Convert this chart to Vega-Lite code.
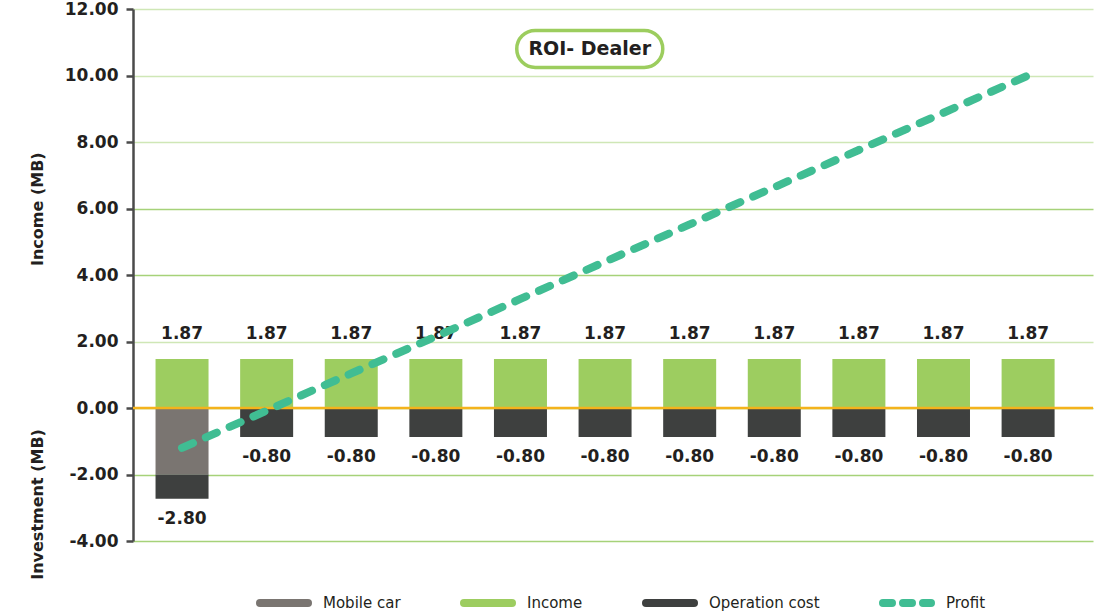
{
  "$schema": "https://vega.github.io/schema/vega-lite/v6.json",
  "width": 960,
  "height": 532,
  "autosize": {"type": "none"},
  "padding": {"left": 133, "top": 9, "right": 4, "bottom": 72},
  "background": "white",
  "config": {"font": "DejaVu Sans", "view": {"stroke": null}},
  "datasets": {
    "bars": [
      {"year": 1, "series": "Mobile car", "v": 0, "v2": -2.0, "label": null},
      {"year": 1, "series": "Operation cost", "v": -2.0, "v2": -2.73, "label": "-2.80"},
      {"year": 2, "series": "Operation cost", "v": 0, "v2": -0.87, "label": "-0.80"},
      {"year": 3, "series": "Operation cost", "v": 0, "v2": -0.87, "label": "-0.80"},
      {"year": 4, "series": "Operation cost", "v": 0, "v2": -0.87, "label": "-0.80"},
      {"year": 5, "series": "Operation cost", "v": 0, "v2": -0.87, "label": "-0.80"},
      {"year": 6, "series": "Operation cost", "v": 0, "v2": -0.87, "label": "-0.80"},
      {"year": 7, "series": "Operation cost", "v": 0, "v2": -0.87, "label": "-0.80"},
      {"year": 8, "series": "Operation cost", "v": 0, "v2": -0.87, "label": "-0.80"},
      {"year": 9, "series": "Operation cost", "v": 0, "v2": -0.87, "label": "-0.80"},
      {"year": 10, "series": "Operation cost", "v": 0, "v2": -0.87, "label": "-0.80"},
      {"year": 11, "series": "Operation cost", "v": 0, "v2": -0.87, "label": "-0.80"},
      {"year": 1, "series": "Income", "v": 0, "v2": 1.47, "label": "1.87"},
      {"year": 2, "series": "Income", "v": 0, "v2": 1.47, "label": "1.87"},
      {"year": 3, "series": "Income", "v": 0, "v2": 1.47, "label": "1.87"},
      {"year": 4, "series": "Income", "v": 0, "v2": 1.47, "label": "1.87"},
      {"year": 5, "series": "Income", "v": 0, "v2": 1.47, "label": "1.87"},
      {"year": 6, "series": "Income", "v": 0, "v2": 1.47, "label": "1.87"},
      {"year": 7, "series": "Income", "v": 0, "v2": 1.47, "label": "1.87"},
      {"year": 8, "series": "Income", "v": 0, "v2": 1.47, "label": "1.87"},
      {"year": 9, "series": "Income", "v": 0, "v2": 1.47, "label": "1.87"},
      {"year": 10, "series": "Income", "v": 0, "v2": 1.47, "label": "1.87"},
      {"year": 11, "series": "Income", "v": 0, "v2": 1.47, "label": "1.87"}
    ],
    "profit": [
      {"year": 1, "v": -1.2},
      {"year": 2, "v": -0.08},
      {"year": 3, "v": 1.04},
      {"year": 4, "v": 2.15},
      {"year": 5, "v": 3.28},
      {"year": 6, "v": 4.4},
      {"year": 7, "v": 5.52},
      {"year": 8, "v": 6.64},
      {"year": 9, "v": 7.76},
      {"year": 10, "v": 8.88},
      {"year": 11, "v": 10.0}
    ],
    "zero": [{"v": 0}],
    "chartTitle": [{"year": 5.819, "v": 10.8, "text": "ROI- Dealer"}],
    "axisTitles": [
      {"year": -0.7, "v": 5.98, "text": "Income (MB)"},
      {"year": -0.7, "v": -2.9, "text": "Investment (MB)"}
    ]
  },
  "encoding": {
    "y": {
      "field": "v",
      "type": "quantitative",
      "title": null,
      "scale": {"domain": [-4, 12], "nice": false, "zero": false},
      "axis": {
        "title": null,
        "values": [-4, -2, 0, 2, 4, 6, 8, 10, 12],
        "labelExpr": "replace(format(datum.value, '.2f'), '\u2212', '-')",
        "labelFont": "DejaVu Sans",
        "labelFontWeight": "bold",
        "labelFontSize": 17,
        "labelColor": "#231f20",
        "labelPadding": 8,
        "domainColor": "#4a4a4a",
        "domainWidth": 2.5,
        "tickColor": "#4a4a4a",
        "tickWidth": 2.5,
        "tickSize": 7,
        "grid": true,
        "gridColor": {"condition": {"test": "datum.value >= 8 || datum.value == 2", "value": "#cfe7b6"}, "value": "#a6d279"},
        "gridWidth": 1.5
      }
    }
  },
  "layer": [
    {
      "data": {"name": "bars"},
      "mark": {"type": "bar", "width": 53},
      "encoding": {
        "x": {"field": "year", "type": "quantitative", "scale": {"domain": [0.4795, 11.708], "nice": false, "zero": false}, "axis": null},
        "y2": {"field": "v2"},
        "color": {
          "field": "series",
          "type": "nominal",
          "scale": {
            "domain": ["Mobile car", "Income", "Operation cost", "Profit"],
            "range": ["#7a7571", "#9dcd60", "#3e403f", "#40bd93"]
          },
          "legend": {
            "title": null,
            "orient": "none",
            "legendX": 123,
            "legendY": 566,
            "direction": "horizontal",
            "padding": 0,
            "labelFont": "DejaVu Sans",
            "labelFontSize": 15,
            "labelColor": "#231f20",
            "labelOffset": 11,
            "columnPadding": 47,
            "symbolSize": 2304,
            "symbolType": "stroke",
            "symbolStrokeWidth": 8,
            "encode": {
              "symbols": {
                "update": {
                  "shape": {"value": "stroke"},
                  "stroke": {"scale": "color", "field": "value"},
                  "strokeWidth": {"value": 8},
                  "strokeCap": {"value": "round"},
                  "strokeDash": {"signal": "datum.value === 'Profit' ? [9, 11] : null"},
                  "fill": {"value": "transparent"},
                  "opacity": {"value": 1}
                }
              }
            }
          }
        }
      }
    },
    {
      "data": {"name": "zero"},
      "mark": {"type": "rule", "color": "#f4b31c", "strokeWidth": 2.5},
      "encoding": {"y": {"field": "v", "type": "quantitative"}}
    },
    {
      "data": {"name": "bars"},
      "transform": [{"filter": "datum.series === 'Income'"}],
      "mark": {"type": "text", "fontWeight": "bold", "fontSize": 17, "color": "#231f20", "baseline": "middle", "dy": -25},
      "encoding": {
        "x": {"field": "year", "type": "quantitative", "axis": null},
        "y": {"field": "v2", "type": "quantitative"},
        "text": {"field": "label"}
      }
    },
    {
      "data": {"name": "bars"},
      "transform": [{"filter": "datum.series === 'Operation cost'"}],
      "mark": {"type": "text", "fontWeight": "bold", "fontSize": 17, "color": "#231f20", "baseline": "middle", "dy": 20},
      "encoding": {
        "x": {"field": "year", "type": "quantitative", "axis": null},
        "y": {"field": "v2", "type": "quantitative"},
        "text": {"field": "label"}
      }
    },
    {
      "data": {"name": "profit"},
      "mark": {"type": "line", "strokeWidth": 8, "strokeCap": "round", "strokeDash": [12, 14]},
      "encoding": {
        "x": {"field": "year", "type": "quantitative", "axis": null},
        "color": {"datum": "Profit"}
      }
    },
    {
      "data": {"name": "chartTitle"},
      "mark": {
        "type": "point",
        "shape": "M-0.7466,-0.2534 L0.7466,-0.2534 A0.2534,0.2534 0 0 1 0.7466,0.2534 L-0.7466,0.2534 A0.2534,0.2534 0 0 1 -0.7466,-0.2534 Z",
        "size": 21316,
        "filled": false,
        "stroke": "#9ccd5e",
        "strokeWidth": 3.5,
        "opacity": 1
      },
      "encoding": {"x": {"field": "year", "type": "quantitative", "axis": null}}
    },
    {
      "data": {"name": "chartTitle"},
      "mark": {"type": "text", "fontWeight": "bold", "fontSize": 19, "color": "#231f20", "baseline": "middle", "align": "center"},
      "encoding": {
        "x": {"field": "year", "type": "quantitative", "axis": null},
        "text": {"field": "text"}
      }
    },
    {
      "data": {"name": "axisTitles"},
      "mark": {"type": "text", "fontWeight": "bold", "fontSize": 16, "color": "#231f20", "baseline": "middle", "align": "center", "angle": 270},
      "encoding": {
        "x": {"field": "year", "type": "quantitative", "axis": null},
        "text": {"field": "text"}
      }
    }
  ]
}
